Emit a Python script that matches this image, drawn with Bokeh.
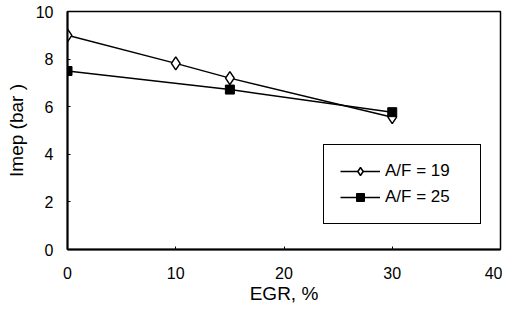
from bokeh.plotting import figure
from bokeh.models import Range1d, Legend, LegendItem, FixedTicker
from bokeh.embed import file_html
from bokeh.resources import INLINE

egr_19 = [0, 10, 15, 30]
imep_19 = [9.0, 7.82, 7.2, 5.56]
egr_25 = [0, 15, 30]
imep_25 = [7.5, 6.72, 5.77]
x_ticks = [0, 10, 20, 30, 40]
y_ticks = [0, 2, 4, 6, 8, 10]
labels = ["A/F = 19", "A/F = 25"]

FONT = "Liberation Sans"

p = figure(width=502, height=306, output_backend="svg", toolbar_location=None,
           x_range=Range1d(0, 40), y_range=Range1d(0, 10),
           min_border_left=67, min_border_right=2, min_border_top=11, min_border_bottom=56)

p.xgrid.visible = False
p.ygrid.visible = False
p.outline_line_color = "black"
p.outline_line_width = 1.5
p.outline_line_alpha = 1.0

for ax in (p.xaxis[0], p.yaxis[0]):
    ax.axis_line_width = 2
    ax.axis_line_color = "black"
    ax.major_tick_in = 3
    ax.major_tick_out = 0
    ax.minor_tick_line_color = None
    ax.major_label_text_font = FONT
    ax.major_label_text_font_size = "16px"
    ax.major_label_text_color = "black"
    ax.axis_label_text_font = FONT
    ax.axis_label_text_font_size = "19px"
    ax.axis_label_text_font_style = "normal"
    ax.axis_label_text_color = "black"

p.xaxis.ticker = FixedTicker(ticks=x_ticks)
p.yaxis.ticker = FixedTicker(ticks=y_ticks)
p.xaxis.axis_label = "EGR, %"
p.yaxis.axis_label = "Imep (bar )"
p.xaxis.major_label_standoff = 17
p.yaxis.major_label_standoff = 14
p.xaxis.axis_label_standoff = 1
p.yaxis.axis_label_standoff = 6

l1 = p.line(egr_19, imep_19, line_color="black", line_width=1.5)
s1 = p.scatter(egr_19, imep_19, marker="diamond", size=13,
               fill_color="white", line_color="black", line_width=1.5)
l2 = p.line(egr_25, imep_25, line_color="black", line_width=1.5)
s2 = p.scatter(egr_25, imep_25, marker="square", size=9, fill_color="black",
               line_color="black")

legend = Legend(items=[LegendItem(label=labels[0], renderers=[l1, s1]),
                       LegendItem(label=labels[1], renderers=[l2, s2])],
                location=(256, 25))
legend.border_line_color = "black"
legend.border_line_width = 1.5
legend.border_line_alpha = 1.0
legend.background_fill_color = "white"
legend.background_fill_alpha = 1.0
legend.padding = 16
legend.margin = 0
legend.glyph_width = 40
legend.glyph_height = 20
legend.label_height = 20
legend.label_width = 79
legend.label_standoff = 5
legend.spacing = 6
legend.label_text_font = FONT
legend.label_text_font_size = "17px"
legend.label_text_color = "black"
p.add_layout(legend, "center")

open("out.html", "w").write(file_html(p, INLINE))
